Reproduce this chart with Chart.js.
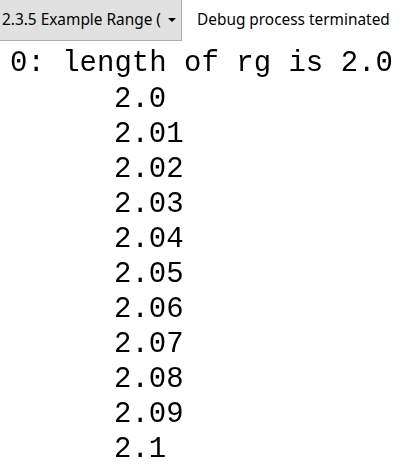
<!DOCTYPE html>
<html>
<head>
<meta charset="utf-8">
<script src="https://cdn.jsdelivr.net/npm/chart.js@4"></script>
<style>
  html, body { margin: 0; padding: 0; background: #fff; width: 415px; height: 469px; overflow: hidden; }
  #toolbar { position: relative; height: 41px; font-family: "Noto Sans", sans-serif; font-size: 15.4px; }
  #picker {
    position: absolute; left: 0; top: 0; width: 181px; height: 40px;
    background: #e1e1e1; border-right: 1px solid #a6aeb8; border-bottom: 1px solid #a6aeb8;
    overflow: hidden; white-space: nowrap;
  }
  #picker .name { position: absolute; left: 2px; top: 9px; width: 160px; overflow: hidden; }
  #picker .arrow { position: absolute; left: 168px; top: 18px; width: 0; height: 0;
    border-left: 4px solid transparent; border-right: 4px solid transparent; border-top: 4px solid #000; }
  #status { position: absolute; left: 197px; top: 9px; white-space: nowrap; color: #000; }
  #console { position: absolute; left: 0; top: 41px; }
</style>
</head>
<body>
<div id="toolbar">
  <div id="picker"><span class="name">2.3.5 Example Range (length)</span><span class="arrow"></span></div>
  <div id="status">Debug process terminated</div>
</div>
<canvas id="console" width="415" height="428"></canvas>
<script>
// Console output of the range loop
const headerLine = '0: length of rg is 2.0';
const rangeValues = [2.0, 2.01, 2.02, 2.03, 2.04, 2.05, 2.06, 2.07, 2.08, 2.09, 2.1];
const printedLabels = ['2.0', '2.01', '2.02', '2.03', '2.04', '2.05', '2.06', '2.07', '2.08', '2.09', '2.1'];

const monoFont = { family: '"Liberation Mono", "Courier New", monospace', size: 29, weight: 'normal', lineHeight: 1.2 };

const ctx = document.getElementById('console').getContext('2d');
new Chart(ctx, {
    type: 'bar',
    data: {
        labels: printedLabels,
        datasets: [{
            label: 'rg',
            data: rangeValues,
            backgroundColor: 'rgba(0,0,0,0)',
            borderWidth: 0
        }]
    },
    options: {
        indexAxis: 'y',
        responsive: false,
        animation: false,
        layout: { padding: { left: 10, right: 0, top: 0, bottom: 2 } },
        plugins: {
            legend: { display: false },
            tooltip: { enabled: false },
            title: {
                display: true,
                text: headerLine,
                align: 'start',
                color: '#000',
                font: monoFont,
                padding: { top: 5, bottom: 1 }
            }
        },
        scales: {
            x: { display: false, min: 0, max: 3 },
            y: {
                type: 'category',
                offset: true,
                grid: { display: false },
                border: { display: false },
                ticks: {
                    mirror: true,
                    crossAlign: 'near',
                    padding: 0,
                    autoSkip: false,
                    color: '#000',
                    font: monoFont
                },
                // six-space indent of the console output, labels sit inside their bands
                afterFit: axis => {
                    axis.width = 104;
                    axis.paddingTop = 0;
                    axis.paddingBottom = 0;
                }
            }
        }
    }
});
</script>
</body>
</html>
